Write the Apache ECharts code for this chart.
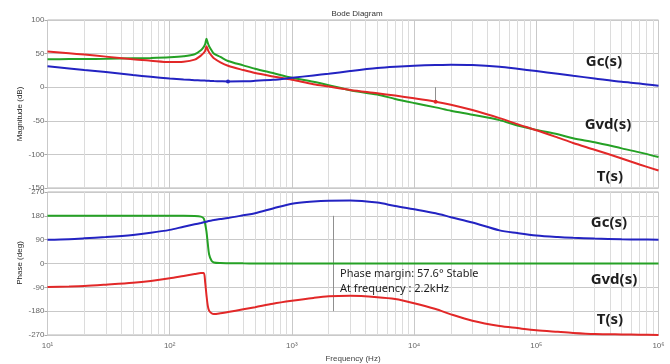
<!DOCTYPE html>
<html><head><meta charset="utf-8">
<script src="https://cdn.jsdelivr.net/npm/echarts@6/dist/echarts.min.js"></script>
<style>html,body{margin:0;padding:0;background:#fff}#c{width:670px;height:364px}</style>
</head><body><div id="c"></div>
<script>
// Frequency samples (Hz)
const freq = [10,15,20,30,50,70,100,130,160,180,190,195,200,205,210,220,230,260,300,400,500,700,1000,1500,2000,3000,5000,7000,10000,15000,20000,30000,50000,70000,100000,150000,200000,300000,500000,700000,1000000];
// Magnitude (dB)
const magGc  = [31,28,25.5,22.5,18,15.5,13,11.5,10.5,10,9.9,9.8,9.7,9.6,9.5,9.3,9.1,8.8,8.5,8.7,9.5,11,14,17.5,20,24,28.5,30.5,32,33,33.5,33,30.5,27.5,24,20,17,13,8,5.5,2];
const magGvd = [41.5,41.8,42,42.3,43,43.5,44.5,46,49,55,60,64,72,66,61,55,50,45,39,32.5,27.5,21,14,8,3,-4.5,-11,-17.5,-23.5,-30,-35,-41,-49,-57,-63.5,-70,-76,-82,-91,-97,-104];
const magT   = [53,50.5,48.5,45.5,41.5,39.5,37.5,38,41,47,51,54,61,56,52,47,43,37,32,25.5,21,16,11,4.5,1,-4,-9,-12.5,-16.5,-21.5,-26,-34,-46,-55,-64,-75,-83,-93,-106,-115,-124];
// Phase (deg)
const phGc  = [90,92,95,100,108,116,127,139,148,153,155.6,157,158,159.5,160.5,162.5,164.5,168,172,182,190,208,226,234,237,238,230,217,205,190,175,155,125,115,106,100,97,94,91.5,90.5,90];
const phGvd = [180,180,180,180,180,180,180,180,179.5,177,170,150,120,75,35,10,4,1.5,1,0.5,0.3,0.2,0.1,0,0,0,0,0,0,0,0,0,0,0,0,0,0,0,0,0,0];
const phT   = [-89,-87,-85,-80,-73,-66,-56,-47,-40,-36,-36,-70,-120,-160,-178,-188,-191,-188,-183,-173,-165,-152,-141,-130,-124,-122,-127,-134,-150,-172,-192,-216,-236,-244,-252,-258,-262,-266,-268,-269,-270];
// Axis ticks
const magTicks = {min:-150, max:100, step:50};
const phaseTicks = {min:-270, max:270, step:90};
const minorFreqs = [20,30,40,50,60,70,80,90,200,300,400,500,600,700,800,900,2000,3000,4000,5000,6000,7000,8000,9000,20000,30000,40000,50000,60000,70000,80000,90000,200000,300000,400000,500000,600000,700000,800000,900000];
// Annotations
const pmFreq = 2200;
const gmFreq = 15000, gmMag = -21.5;
const gcDot = [300, 8.5];

const chart = echarts.init(document.getElementById('c'));
const zip = ys => freq.map((f,i)=>[f, ys[i]]);
const col = {gc:'#2323c2', gvd:'#25a125', t:'#e22828'};
const sup = {'1':'\u00b9','2':'\u00b2','3':'\u00b3','4':'\u2074','5':'\u2075','6':'\u2076'};
const F = 'Liberation Sans, Arial, sans-serif';
const L = 47.5, R = 11.5;

const minor = xi => ({type:'line', xAxisIndex:xi, yAxisIndex:xi, data:[], silent:true, z:1,
  markLine:{silent:true, z:1, symbol:['none','none'], label:{show:false}, animation:false,
    lineStyle:{color:'#dcdcdc', width:1, type:'solid'}, emphasis:{disabled:true},
    data: minorFreqs.map(f=>({xAxis:f}))}});
const curve = (xi, ys, c) => ({type:'line', xAxisIndex:xi, yAxisIndex:xi, data:zip(ys), showSymbol:false,
  smooth:0.3, z:3, lineStyle:{color:c, width:2}, itemStyle:{color:c}, animation:false});

const xBase = {type:'log', logBase:10, min:10, max:1e6, splitNumber:5,
  axisLine:{show:false}, axisTick:{show:false},
  splitLine:{show:true, lineStyle:{color:'#c9c9c9', width:1}}};
const yBase = (t) => ({type:'value', min:t.min, max:t.max, interval:t.step,
  axisLine:{show:false}, axisTick:{show:true, length:3, lineStyle:{color:'#aaa'}},
  axisLabel:{color:'#666', fontSize:8, fontFamily:F, margin:3},
  splitLine:{show:true, lineStyle:{color:'#c9c9c9', width:1}}});
const txt = (x, y, text, font, align, extra) => Object.assign({type:'text', x:x, y:y, z:20,
  style:{text:text, fill:'#1e1e1e', font:font, align:align, verticalAlign:'middle', textAlign:align, textVerticalAlign:'middle'}}, extra||{});

chart.setOption({
  animation:false,
  backgroundColor:'#fff',
  title:{text:'Bode Diagram', left:352, top:5, textAlign:'center',
    textStyle:{fontSize:8, fontWeight:'normal', color:'#333', fontFamily:F}},
  grid:[
    {left:L, right:R, top:20, height:168, show:true, borderColor:'#b5b5b5', borderWidth:1},
    {left:L, right:R, top:192, height:144, show:true, borderColor:'#b5b5b5', borderWidth:1}
  ],
  xAxis:[
    Object.assign({}, xBase, {gridIndex:0, axisLabel:{show:false}}),
    Object.assign({}, xBase, {gridIndex:1,
      axisLabel:{show:true, color:'#666', fontSize:8, fontFamily:F, margin:7,
        formatter: v => '10' + sup[String(Math.round(Math.log10(v)))]},
      name:'Frequency (Hz)', nameLocation:'middle', nameGap:20,
      nameTextStyle:{fontSize:8, color:'#444', fontFamily:F}})
  ],
  yAxis:[
    Object.assign(yBase(magTicks), {gridIndex:0}),
    Object.assign(yBase(phaseTicks), {gridIndex:1})
  ],
  series:[
    minor(0), minor(1),
    curve(0, magGvd, col.gvd), curve(0, magT, col.t), curve(0, magGc, col.gc),
    curve(1, phGvd, col.gvd), curve(1, phT, col.t), curve(1, phGc, col.gc),
    {type:'line', xAxisIndex:1, yAxisIndex:1, data:[], silent:true, z:2,
      markLine:{silent:true, z:2, symbol:['none','none'], label:{show:false}, animation:false,
        lineStyle:{color:'#909090', width:1, type:'solid'},
        data:[[{coord:[pmFreq,180]},{coord:[pmFreq,-180]}]]}},
    {type:'line', xAxisIndex:0, yAxisIndex:0, data:[], silent:true, z:4,
      markLine:{silent:true, z:4, symbol:['none','none'], label:{show:false}, animation:false,
        lineStyle:{color:'#909090', width:1, type:'solid'},
        data:[[{coord:[gmFreq,0]},{coord:[gmFreq,gmMag]}]]},
      markPoint:{silent:true, z:6, symbol:'circle', symbolSize:4, label:{show:false}, animation:false,
        data:[{coord:[gmFreq,gmMag], itemStyle:{color:col.t}}, {coord:gcDot, itemStyle:{color:col.gc}}]}}
  ],
  graphic:[
    txt(20, 114, 'Magnitude (dB)', '8px '+F, 'center', {rotation:Math.PI/2}),
    txt(20, 263, 'Phase (deg)', '8px '+F, 'center', {rotation:Math.PI/2}),
    txt(604, 62, 'Gc(s)', 'bold 15px "Noto Sans"', 'center'),
    txt(608, 125, 'Gvd(s)', 'bold 15px "Noto Sans"', 'center'),
    txt(610, 177, 'T(s)', 'bold 15px "Noto Sans"', 'center'),
    txt(609, 223, 'Gc(s)', 'bold 15px "Noto Sans"', 'center'),
    txt(614, 280, 'Gvd(s)', 'bold 15px "Noto Sans"', 'center'),
    txt(610, 320, 'T(s)', 'bold 15px "Noto Sans"', 'center'),
    txt(340, 274, 'Phase margin: 57.6\u00b0 Stable', '11px "Noto Sans"', 'left'),
    txt(340, 289, 'At frequency : 2.2kHz', '11px "Noto Sans"', 'left')
  ]
});
</script>
</body></html>
